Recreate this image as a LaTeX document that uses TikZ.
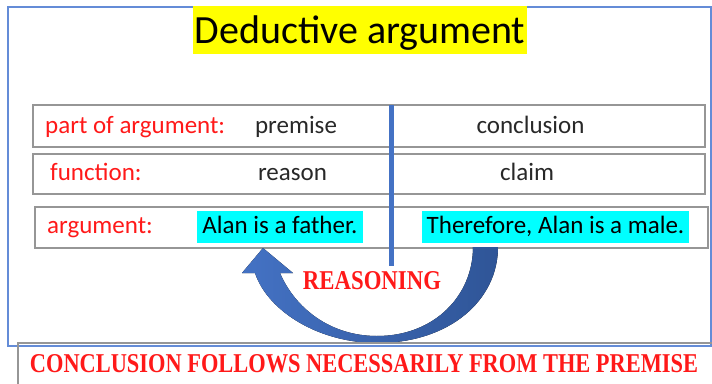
\documentclass[tikz,border=0pt]{standalone}
\usepackage{fontspec}
\setmainfont{Carlito}
\newfontfamily\decofont{Liberation Serif}
\usepackage{graphicx}
\definecolor{frameblue}{RGB}{100,140,215}
\definecolor{linblue}{RGB}{68,114,196}
\definecolor{darkblue}{RGB}{47,85,151}
\definecolor{txtred}{RGB}{255,25,25}
\definecolor{hlcyan}{RGB}{0,255,255}
\definecolor{boxgray}{RGB}{150,150,150}
\definecolor{txtgray}{RGB}{40,40,40}
\definecolor{titleyellow}{RGB}{255,255,0}
\begin{document}
\begin{tikzpicture}[x=1pt,y=-1pt,
  rowbox/.style={draw=boxgray, line width=1.5pt},
  lbl/.style={anchor=base west, inner sep=0pt, text=txtred, font=\fontsize{25}{30}\selectfont},
  val/.style={anchor=base, inner sep=0pt, text=txtgray, font=\fontsize{25}{30}\selectfont},
  hl/.style={fill=hlcyan, text=black, inner xsep=0pt, inner ysep=0pt, text height=18pt, text depth=5pt, minimum height=32pt, font=\fontsize{25}{30}\selectfont},
  deco/.style={inner sep=0pt, text=txtred}]
\useasboundingbox (0,0) rectangle (712,383);
\clip (0,0) rectangle (712,383);
% outer frame
\draw[frameblue, line width=2pt] (8,7) rectangle (711,346);
% title
\node[fill=titleyellow, text=black, inner sep=0pt, minimum width=334pt, minimum height=48pt,
      text height=30pt, text depth=4pt, font=\fontsize{40}{48}\selectfont] (title) at (360,30) {Deductive argument};
% rows
\draw[rowbox] (33,105) rectangle (705,147);
\draw[rowbox] (33,154) rectangle (705,194);
\draw[rowbox] (35,207) rectangle (708,248);
\node[lbl] (l1) at (45,133) {part of argument:};
\node[val] (v1a) at (296,133) {premise};
\node[val] (v1b) at (530.5,133) {conclusion};
\node[lbl] (l2) at (50,180) {function:};
\node[val] (v2a) at (292.5,180) {reason};
\node[val] (v2b) at (527,180) {claim};
\node[lbl] (l3) at (47,233) {argument:};
\node[hl, minimum width=166pt] (p) at (280,226.5) {Alan is a father.};
\node[hl, minimum width=267pt] (c) at (555.5,226.5) {Therefore, Alan is a male.};
% vertical divider
\coordinate (vtop) at (391,105);
\coordinate (vbot) at (391,266);
\draw[linblue, line width=5pt] (vtop) -- (vbot);
% curved arrow
\fill[left color=linblue, right color=darkblue]
  (255,273) -- (242,273) -- (263,248) -- (293,273) -- (280,273)
  .. controls (295,308) and (330,336) .. (377,336)
  .. controls (435,336) and (473,295) .. (473,247)
  -- (498,247)
  .. controls (498,300) and (450,343) .. (377,343)
  .. controls (320,343) and (268,312) .. (255,273) -- cycle;
\node[deco] (reasoning) at (372,281) {\resizebox{138pt}{18pt}{\decofont\bfseries REASONING}};
% bottom box
\draw[rowbox] (18,343) rectangle (730,400);
\node[deco] (concl) at (364,364) {\resizebox{668pt}{18pt}{\decofont\bfseries CONCLUSION FOLLOWS NECESSARILY FROM THE PREMISE}};
\end{tikzpicture}
\end{document}
